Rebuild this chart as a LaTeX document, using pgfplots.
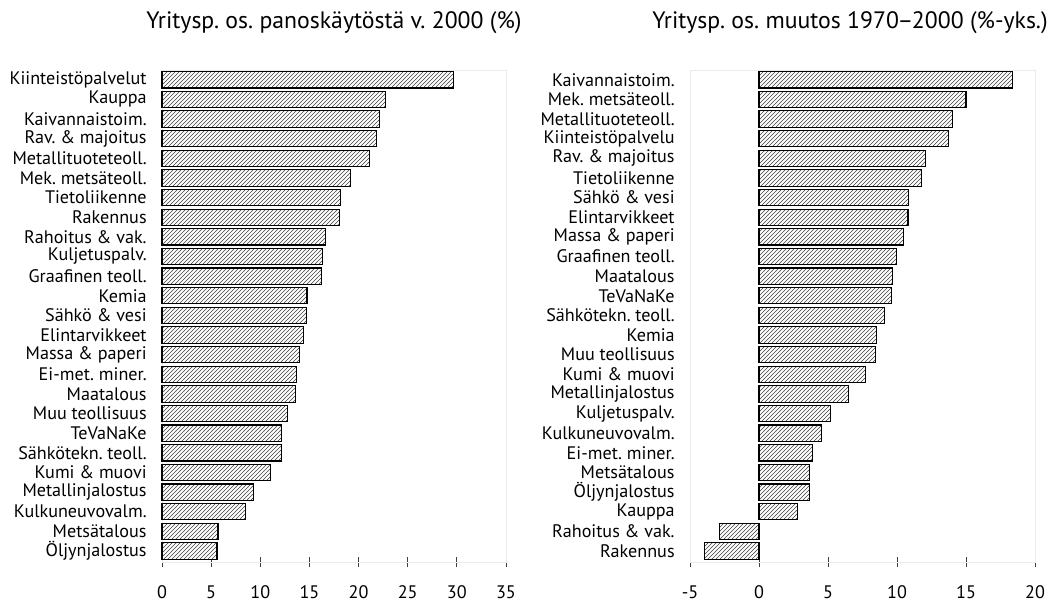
\documentclass[border=0pt]{standalone}
\usepackage{pgfplots}
\pgfplotsset{compat=1.18}
\usepackage{fontspec}
\setmainfont{PT Sans}
\usetikzlibrary{patterns}
\frenchspacing

\pgfplotsset{
  panel/.style={
    xbar, scale only axis, anchor=south west,
    height=369pt,
    bar width=0.83,
    ymin=0.44, ymax=25.5,
    ytick={1,...,25},
    axis line style={draw=black!8},
    xtick pos=bottom, ytick pos=left,
    tick align=center,
    major tick length=8pt,
    xtick style={draw=black!75, line width=0.6pt},
    ytick style={draw=none},
    tick label style={font=\fontsize{13.6}{15}\selectfont},
    yticklabel style={xshift=-4pt},
    xticklabel style={yshift=-10pt},
    clip=false,
  },
  hbar/.style={draw=black, line width=0.85pt, fill=white,
    postaction={pattern=north east lines, pattern color=black!75}},
}

\begin{document}
\begin{tikzpicture}
\begin{scope}[x=0.75pt,y=0.75pt]
\useasboundingbox (0,0) rectangle (1051,597);
\node[inner sep=0pt, font=\fontsize{17.8}{20}\selectfont] at (334,574) {Yritysp. os. panoskäytöstä v. 2000 (\%)};
\node[inner sep=0pt, font=\fontsize{17.8}{20}\selectfont, anchor=east] at (1048,574) {Yritysp. os. muutos 1970\kern-1pt–\kern-1pt2000 (\%-yks.)};
\end{scope}

\begin{axis}[panel,
  at={(121.5pt,26.25pt)}, width=258pt,
  xmin=0, xmax=35,
  xtick={0,5,...,35},
  xticklabels={0,5,10,15,20,25,30,35},
  yticklabels={Öljynjalostus,Metsätalous,Kulkuneuvovalm.,Metallinjalostus,Kumi \& muovi,Sähkötekn. teoll.,TeVaNaKe,Muu teollisuus,Maatalous,Ei-met. miner.,Massa \& paperi,Elintarvikkeet,Sähkö \& vesi,Kemia,Graafinen teoll.,Kuljetuspalv.,Rahoitus \& vak.,Rakennus,Tietoliikenne,Mek. metsäteoll.,Metallituoteteoll.,Rav. \& majoitus,Kaivannaistoim.,Kauppa,Kiinteistöpalvelut},
]
\addplot[hbar] coordinates {
(29.7,25) (22.7,24) (22.1,23) (21.8,22) (21.1,21) (19.2,20) (18.2,19) (18.1,18)
(16.6,17) (16.3,16) (16.2,15) (14.75,14) (14.7,13) (14.4,12) (14.0,11) (13.7,10)
(13.6,9) (12.8,8) (12.2,7) (12.2,6) (11.05,5) (9.3,4) (8.5,3) (5.7,2) (5.6,1)
};
\end{axis}

\begin{axis}[panel,
  at={(517.5pt,26.25pt)}, width=258.75pt,
  xmin=-5, xmax=20,
  xtick={-5,0,...,20},
  xticklabels={-5,0,5,10,15,20},
  yticklabels={Rakennus,Rahoitus \& vak.,Kauppa,Öljynjalostus,Metsätalous,Ei-met. miner.,Kulkuneuvovalm.,Kuljetuspalv.,Metallinjalostus,Kumi \& muovi,Muu teollisuus,Kemia,Sähkötekn. teoll.,TeVaNaKe,Maatalous,Graafinen teoll.,Massa \& paperi,Elintarvikkeet,Sähkö \& vesi,Tietoliikenne,Rav. \& majoitus,Kiinteistöpalvelu,Metallituoteteoll.,Mek. metsäteoll.,Kaivannaistoim.},
]
\addplot[hbar] coordinates {
(18.35,25) (15.0,24) (14.0,23) (13.75,22) (12.05,21) (11.8,20) (10.85,19) (10.8,18)
(10.5,17) (9.95,16) (9.65,15) (9.6,14) (9.1,13) (8.5,12) (8.45,11) (7.7,10)
(6.5,9) (5.2,8) (4.55,7) (3.9,6) (3.65,5) (3.65,4) (2.8,3) (-2.85,2) (-3.95,1)
};
\end{axis}
\end{tikzpicture}
\end{document}
